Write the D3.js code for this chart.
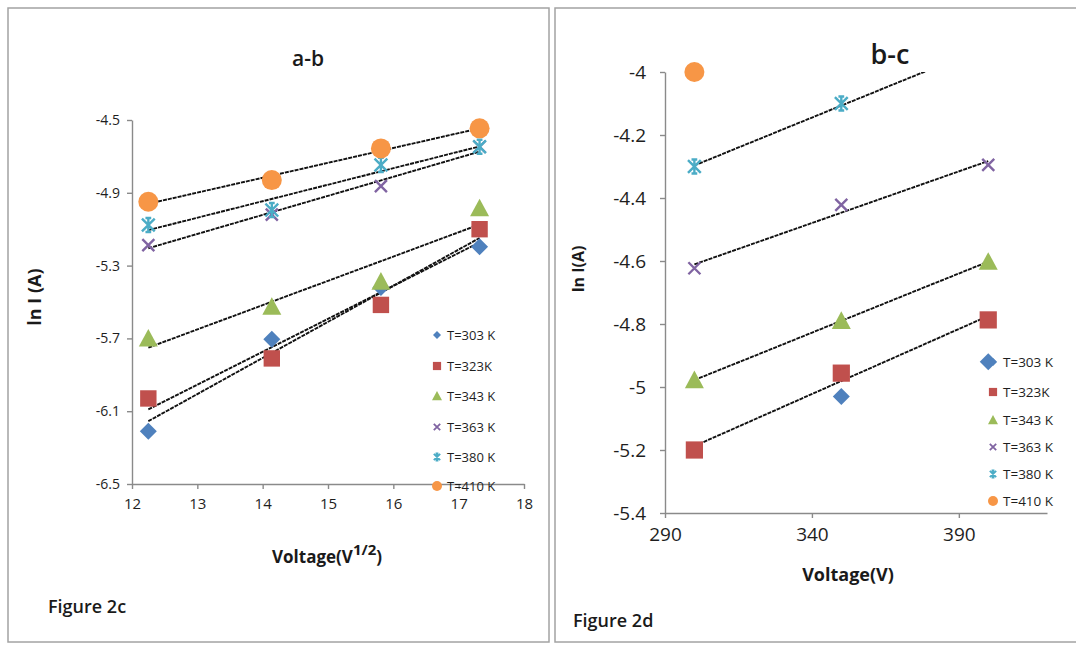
<!DOCTYPE html>
<html>
<head>
<meta charset="utf-8">
<script src="https://cdn.jsdelivr.net/npm/d3@7"></script>
<style>
  body { margin: 0; background: #fff; }
  svg { display: block; }
  text { font-family: "Open Sans", "DejaVu Sans", sans-serif; }
</style>
</head>
<body>
<svg id="chart" width="1076" height="646"></svg>
<script>
// ---- data -------------------------------------------------------------
const seriesNames = ["T=303 K", "T=323K", "T=343 K", "T=363 K", "T=380 K", "T=410 K"];

// Figure 2c: ln I against square root of voltage (region a-b)
const sqrtVoltage = [12.25, 14.14, 15.81, 17.32];
const ab303 = [-6.21, -5.705, -5.42, -5.196];
const ab323 = [-6.03, -5.81, -5.516, -5.10];
const ab343 = [-5.70, -5.526, -5.388, -4.985];
const ab363 = [-5.187, -5.02, -4.863, -4.647];
const ab380 = [-5.077, -4.995, -4.747, -4.647];
const ab410 = [-4.949, -4.83, -4.656, -4.546];

// Figure 2d: ln I against voltage (region b-c)
const voltage = [300, 350, 400];
const bc303 = [null, -5.03, -4.92];
const bc323 = [-5.20, -4.956, -4.787];
const bc343 = [-4.978, -4.79, -4.602];
const bc363 = [-4.623, -4.422, -4.295];
const bc380 = [-4.30, -4.10, -3.92];
const bc410 = [-4.00, null, null];

const abTicksY = [-4.5, -4.9, -5.3, -5.7, -6.1, -6.5];
const abTicksX = [12, 13, 14, 15, 16, 17, 18];
const bcTicksY = [-4, -4.2, -4.4, -4.6, -4.8, -5, -5.2, -5.4];
const bcTicksX = [290, 340, 390];

// which series carry a linear trendline in each panel
const abTrend = [true, true, true, true, true, true];
const bcTrend = [false, true, true, true, true, false];

// ---- styling ----------------------------------------------------------
const colors = ["#4F81BD", "#C0504D", "#9BBB59", "#8064A2", "#4BACC6", "#F79646"];

// marker shapes drawn as d3 symbol types; half width comes from the size
const half = size => Math.sqrt(size) / 2;
const diamond = { draw(c, s) { const r = half(s); c.moveTo(0, -r); c.lineTo(r, 0); c.lineTo(0, r); c.lineTo(-r, 0); c.closePath(); } };
const square = { draw(c, s) { const r = half(s) * 0.82; c.rect(-r, -r, 2 * r, 2 * r); } };
const triangle = { draw(c, s) { const r = half(s); c.moveTo(0, -r); c.lineTo(r, r * 0.85); c.lineTo(-r, r * 0.85); c.closePath(); } };
const cross = { draw(c, s) { const r = half(s) * 0.8; c.moveTo(-r, -r); c.lineTo(r, r); c.moveTo(r, -r); c.lineTo(-r, r); } };
const star = { draw(c, s) { const r = half(s) * 0.8; c.moveTo(-r, -r); c.lineTo(r, r); c.moveTo(r, -r); c.lineTo(-r, r); c.moveTo(0, -r * 1.1); c.lineTo(0, r * 1.1); c.moveTo(-r * 0.45, -r * 1.1); c.lineTo(r * 0.45, -r * 1.1); c.moveTo(-r * 0.45, r * 1.1); c.lineTo(r * 0.45, r * 1.1); } };
const circle = { draw(c, s) { const r = half(s); c.moveTo(r, 0); c.arc(0, 0, r, 0, 2 * Math.PI); } };
const shapes = [diamond, square, triangle, cross, star, circle];
const stroked = [false, false, false, true, true, false];

const svg = d3.select("#chart");

// panel frames
const frame = svg.append("g").attr("fill", "none").attr("stroke", "#a3a3a3").attr("stroke-width", 1.5);
frame.append("rect").attr("x", 8).attr("y", 8).attr("width", 541).attr("height", 634);
frame.append("rect").attr("x", 555).attr("y", 8).attr("width", 540).attr("height", 634);

function fit(xs, ys) {
  const pts = xs.map((x, i) => [x, ys[i]]).filter(p => p[1] != null);
  const mx = d3.mean(pts, p => p[0]), my = d3.mean(pts, p => p[1]);
  const sxy = d3.sum(pts, p => (p[0] - mx) * (p[1] - my));
  const sxx = d3.sum(pts, p => (p[0] - mx) ** 2);
  const b = sxy / sxx, a = my - b * mx;
  const x0 = d3.min(pts, p => p[0]), x1 = d3.max(pts, p => p[0]);
  return [[x0, a + b * x0], [x1, a + b * x1]];
}

function panel(opt) {
  const g = svg.append("g");
  const x = d3.scaleLinear().domain(opt.xDomain).range(opt.xRange);
  const y = d3.scaleLinear().domain(opt.yDomain).range(opt.yRange);
  const left = opt.xRange[0], right = opt.xRange[1];
  const top = y(opt.yDomain[1]), bottom = y(opt.yDomain[0]);

  // axes
  const yAxis = g.append("g").attr("transform", `translate(${left},0)`)
    .call(d3.axisLeft(y).tickValues(opt.yTicks).tickSize(5).tickSizeOuter(0).tickPadding(opt.yPad).tickFormat(d => String(d)));
  const xAxis = g.append("g").attr("transform", `translate(0,${bottom})`)
    .call(d3.axisBottom(x).tickValues(opt.xTicks).tickSize(5).tickSizeOuter(0).tickPadding(opt.xPad).tickFormat(d => String(d)));
  [yAxis, xAxis].forEach(a => {
    a.select(".domain").attr("stroke", "#8a8a8a").attr("stroke-width", 1.4);
    a.selectAll(".tick line").attr("stroke", "#8a8a8a").attr("stroke-width", 1.4);
    a.selectAll("text").attr("fill", "#1e1e1e").style("font-family", '"Open Sans", sans-serif');
  });
  yAxis.selectAll("text").style("font-size", opt.yFont + "px");
  xAxis.selectAll("text").style("font-size", opt.xFont + "px");

  // trendlines, clipped to the plot area
  const clipId = "clip" + opt.id;
  svg.append("clipPath").attr("id", clipId).append("rect")
    .attr("x", left).attr("y", top).attr("width", right - left).attr("height", bottom - top);
  const line = d3.line().x(d => x(d[0])).y(d => y(d[1]));
  const tg = g.append("g").attr("clip-path", `url(#${clipId})`);
  opt.series.forEach((ys, i) => {
    if (!opt.trend[i]) return;
    tg.append("path").attr("d", line(fit(opt.xs, ys)))
      .attr("fill", "none").attr("stroke", "#111").attr("stroke-width", 1.9)
      .attr("stroke-dasharray", "4 1");
  });

  // markers; points beyond the value axis are not shown
  const lo = d3.min(opt.yDomain) - 1e-6, hi = d3.max(opt.yDomain) + 1e-6;
  const mg = g.append("g");
  opt.series.forEach((ys, i) => {
    const sym = d3.symbol().type(shapes[i]).size(opt.markerSize[i] ** 2);
    opt.xs.forEach((xv, k) => {
      const v = ys[k];
      if (v == null || v < lo || v > hi) return;
      const p = mg.append("path").attr("d", sym()).attr("transform", `translate(${x(xv)},${y(v)})`);
      if (stroked[i]) p.attr("fill", "none").attr("stroke", colors[i]).attr("stroke-width", 2.4);
      else p.attr("fill", colors[i]);
    });
  });

  // legend
  const lg = g.append("g");
  seriesNames.forEach((name, i) => {
    const sym = d3.symbol().type(shapes[i]).size(opt.legendMarker[i] ** 2);
    const ly = opt.legendY[i];
    const p = lg.append("path").attr("d", sym()).attr("transform", `translate(${opt.legendX},${ly})`);
    if (stroked[i]) p.attr("fill", "none").attr("stroke", colors[i]).attr("stroke-width", 1.8);
    else p.attr("fill", colors[i]);
    lg.append("text").attr("x", opt.legendX + 10).attr("y", ly).attr("dy", "0.36em")
      .attr("fill", "#1e1e1e").style("font-size", opt.legendFont + "px").text(name);
  });
  return g;
}

// ---- Figure 2c --------------------------------------------------------
panel({
  id: "ab",
  xDomain: [12, 18], xRange: [132, 524],
  yDomain: [-6.5, -4.5], yRange: [484, 120],
  xTicks: abTicksX, yTicks: abTicksY,
  xs: sqrtVoltage, series: [ab303, ab323, ab343, ab363, ab380, ab410], trend: abTrend,
  yPad: 7, xPad: 9, yFont: 14, xFont: 15,
  markerSize: [17, 20, 19, 15, 16, 20],
  legendX: 437, legendY: [335, 366, 396, 427, 457, 486], legendMarker: [8, 10, 10, 8, 8, 10], legendFont: 13
});

// ---- Figure 2d --------------------------------------------------------
panel({
  id: "bc",
  xDomain: [290, 420], xRange: [665, 1047],
  yDomain: [-5.4, -4], yRange: [513, 72],
  xTicks: bcTicksX, yTicks: bcTicksY,
  xs: voltage, series: [bc303, bc323, bc343, bc363, bc380, bc410], trend: bcTrend,
  yPad: 14, xPad: 10, yFont: 19, xFont: 19,
  markerSize: [17, 21, 19, 15, 16, 20],
  legendX: 993, legendY: [362, 392, 420, 447, 474, 501], legendMarker: [8, 10, 10, 8, 8, 10], legendFont: 13.5
});

// ---- titles and labels ------------------------------------------------
const lab = svg.append("g").attr("fill", "#1a1a1a");
lab.append("text").attr("x", 308).attr("y", 66).attr("text-anchor", "middle")
  .style("font-size", "21px").style("font-weight", 600).text("a-b");
lab.append("text").attr("x", 890).attr("y", 64).attr("text-anchor", "middle")
  .style("font-size", "27px").style("font-weight", 600).text("b-c");

const xl = lab.append("text").attr("x", 327).attr("y", 563).attr("text-anchor", "middle")
  .style("font-size", "17px").style("font-weight", 700);
xl.append("tspan").text("Voltage(V");
xl.append("tspan").attr("dy", -8).style("font-size", "15px").text("1/2");
xl.append("tspan").attr("dy", 8).text(")");

lab.append("text").attr("x", 848).attr("y", 581).attr("text-anchor", "middle")
  .style("font-size", "18px").style("font-weight", 700).text("Voltage(V)");

lab.append("text").attr("transform", "translate(41,297) rotate(-90)").attr("text-anchor", "middle")
  .style("font-size", "18px").style("font-weight", 700).text("ln I (A)");
lab.append("text").attr("transform", "translate(584,269) rotate(-90)").attr("text-anchor", "middle")
  .style("font-size", "16px").style("font-weight", 700).text("ln I(A)");

lab.append("text").attr("x", 48).attr("y", 613).style("font-size", "18px").style("font-weight", 600).text("Figure 2c");
lab.append("text").attr("x", 573).attr("y", 627).style("font-size", "18px").style("font-weight", 600).text("Figure 2d");
</script>
</body>
</html>
